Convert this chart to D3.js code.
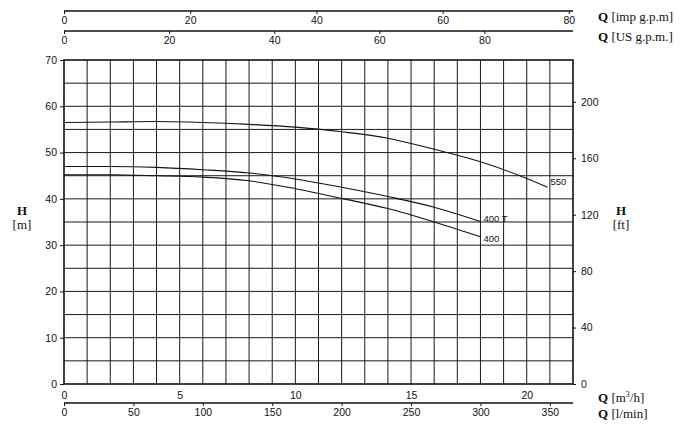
<!DOCTYPE html>
<html>
<head>
<meta charset="utf-8">
<script src="https://cdn.jsdelivr.net/npm/d3@7"></script>
<style>
html,body{margin:0;padding:0;background:#fff;}
svg{display:block;}
</style>
</head>
<body>
<svg id="chart" width="682" height="440"></svg>
<script>
// ---- data ----
const q550 = [0, 2, 4, 6, 8, 10, 12, 14, 16, 18, 20, 20.9];
const h550 = [56.5, 56.6, 56.7, 56.5, 56.1, 55.5, 54.5, 53.1, 50.7, 48.0, 44.4, 42.5];
const q400T = [0, 2, 4, 6, 8, 10, 12, 14, 16, 18];
const h400T = [47.0, 47.0, 46.8, 46.3, 45.6, 44.3, 42.5, 40.5, 38.2, 35.1];
const q400 = [0, 2, 4, 6, 8, 10, 12, 14, 16, 18];
const h400 = [45.2, 45.2, 45.0, 44.7, 43.9, 42.2, 40.1, 37.9, 35.0, 31.8];
const curveLabels = ["550", "400 T", "400"];

const ticksM = [0, 10, 20, 30, 40, 50, 60, 70];
const ticksFt = [0, 40, 80, 120, 160, 200];
const ticksM3h = [0, 5, 10, 15, 20];
const ticksLmin = [0, 50, 100, 150, 200, 250, 300, 350];
const ticksImp = [0, 20, 40, 60, 80];
const ticksUS = [0, 20, 40, 60, 80];

const qMax = 22, hMax = 70;

// ---- layout ----
const L = 64, R = 573, T = 60, B = 384;
const svg = d3.select("#chart");
const x = d3.scaleLinear().domain([0, qMax]).range([L, R]);
const y = d3.scaleLinear().domain([0, hMax]).range([B, T]);
const yFt = d3.scaleLinear().domain([0, hMax * 3.28084]).range([B, T]);
const xImp = d3.scaleLinear().domain([0, qMax * 3.6662]).range([L, R]);
const xUS = d3.scaleLinear().domain([0, qMax * 4.40287]).range([L, R]);
const xLmin = d3.scaleLinear().domain([0, qMax * 1000 / 60]).range([L, R]);

const sans = "'Liberation Sans', Arial, sans-serif";
const serif = "'Liberation Serif', 'Times New Roman', serif";

// grid
const grid = svg.append("g").attr("stroke", "#1a1a1a").attr("stroke-width", 1);
d3.range(1, qMax).forEach(v => {
  grid.append("line").attr("x1", x(v)).attr("x2", x(v)).attr("y1", T).attr("y2", B);
});
d3.range(5, hMax, 5).forEach(v => {
  grid.append("line").attr("x1", L).attr("x2", R).attr("y1", y(v)).attr("y2", y(v));
});
// frame
svg.append("rect").attr("x", L).attr("y", T).attr("width", R - L).attr("height", B - T)
  .attr("fill", "none").attr("stroke", "#111").attr("stroke-width", 1.6);

function styleAxis(g, size) {
  g.select(".domain").attr("stroke", "#111").attr("stroke-width", 1.3);
  g.selectAll(".tick line").attr("stroke", "#111");
  g.selectAll(".tick text").attr("font-family", sans).attr("font-size", size || 10.5).attr("fill", "#111");
}

// left axis (m)
const gl = svg.append("g").attr("transform", `translate(${L},0)`)
  .call(d3.axisLeft(y).tickValues(ticksM).tickSize(4).tickPadding(3).tickSizeOuter(0));
styleAxis(gl);
gl.select(".domain").remove();

// right axis (ft)
const gr = svg.append("g").attr("transform", `translate(${R},0)`)
  .call(d3.axisRight(yFt).tickValues(ticksFt).tickSize(3).tickPadding(5).tickSizeOuter(0));
styleAxis(gr);
gr.select(".domain").remove();

// bottom axis m3/h
const gb = svg.append("g").attr("transform", `translate(0,${B})`)
  .call(d3.axisBottom(x).tickValues(ticksM3h).tickSize(0).tickPadding(8).tickSizeOuter(0));
styleAxis(gb);
gb.select(".domain").remove();

// bottom axis l/min
const gb2 = svg.append("g").attr("transform", `translate(0,403)`)
  .call(d3.axisBottom(xLmin).tickValues(ticksLmin).tickSize(3).tickPadding(3).tickSizeOuter(0));
styleAxis(gb2);
gb2.select(".domain").attr("d", `M${L},0H${R}`);

// top axis imp gpm
const gt1 = svg.append("g").attr("transform", `translate(0,11)`)
  .call(d3.axisBottom(xImp).tickValues(ticksImp).tickSize(3).tickPadding(3).tickSizeOuter(0));
styleAxis(gt1);
gt1.select(".domain").attr("d", `M${L},0H${R}`);

// top axis US gpm
const gt2 = svg.append("g").attr("transform", `translate(0,31)`)
  .call(d3.axisBottom(xUS).tickValues(ticksUS).tickSize(3).tickPadding(3).tickSizeOuter(0));
styleAxis(gt2);
gt2.select(".domain").attr("d", `M${L},0H${R}`);

// curves
const line = d3.line().x(d => x(d[0])).y(d => y(d[1])).curve(d3.curveMonotoneX);
const series = [
  {q: q550, h: h550, label: curveLabels[0], dy: -2},
  {q: q400T, h: h400T, label: curveLabels[1], dy: 0},
  {q: q400, h: h400, label: curveLabels[2], dy: 5},
];
series.forEach(s => {
  const pts = s.q.map((v, i) => [v, s.h[i]]);
  svg.append("path").attr("d", line(pts)).attr("fill", "none")
    .attr("stroke", "#111").attr("stroke-width", 1.1);
  const last = pts[pts.length - 1];
  svg.append("text").attr("x", x(last[0]) + 3).attr("y", y(last[1]) + s.dy)
    .attr("font-family", sans).attr("font-size", 9.5).attr("fill", "#111")
    .text(s.label);
});

// axis titles
function title(xp, yp, bold, rest, anchor) {
  const t = svg.append("text").attr("x", xp).attr("y", yp).attr("font-family", serif)
    .attr("font-size", 13).attr("fill", "#111").attr("text-anchor", anchor || "start");
  t.append("tspan").attr("font-weight", "bold").text(bold);
  return t;
}
let t;
t = title(598, 21, "Q", ""); t.append("tspan").text(" [imp g.p.m]");
t = title(598, 41, "Q", ""); t.append("tspan").text(" [US g.p.m.]");
t = title(598, 402, "Q", ""); t.append("tspan").text(" [m");
t.append("tspan").attr("font-size", 8).attr("dy", -5).text("3");
t.append("tspan").attr("dy", 5).text("/h]");
t = title(598, 418, "Q", ""); t.append("tspan").text(" [l/min]");

title(22, 215, "H", "", "middle");
svg.append("text").attr("x", 22).attr("y", 229).attr("font-family", serif).attr("font-size", 13)
  .attr("text-anchor", "middle").attr("fill", "#111").text("[m]");
title(621, 215, "H", "", "middle");
svg.append("text").attr("x", 621).attr("y", 229).attr("font-family", serif).attr("font-size", 13)
  .attr("text-anchor", "middle").attr("fill", "#111").text("[ft]");
</script>
</body>
</html>
